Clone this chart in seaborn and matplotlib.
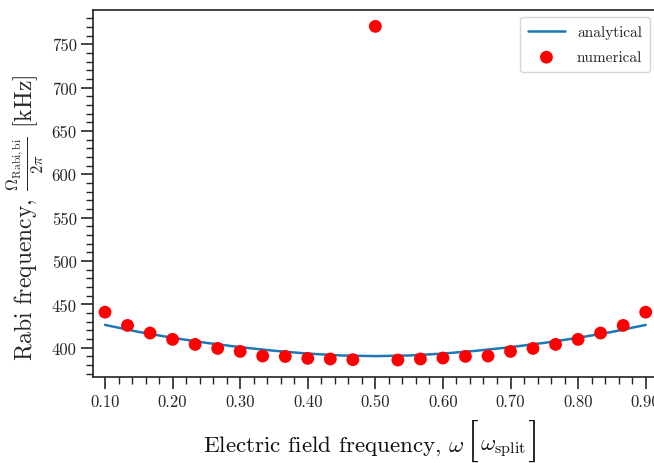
import matplotlib
matplotlib.use("Agg")
import matplotlib.pyplot as plt
import seaborn as sns
import numpy as np
import pandas as pd
from matplotlib.ticker import MultipleLocator, FormatStrFormatter
from matplotlib.offsetbox import TextArea, HPacker, AnnotationBbox

# Numerical data
num_omega = [0.100, 0.1333, 0.1667, 0.200, 0.2333, 0.2667, 0.300, 0.3333, 0.3667,
             0.400, 0.4333, 0.4667, 0.500, 0.5333, 0.5667, 0.600, 0.6333, 0.6667,
             0.700, 0.7333, 0.7667, 0.800, 0.8333, 0.8667, 0.900]
num_rabi = [441.0, 425.7, 416.9, 409.6, 403.8, 399.2, 395.7, 390.4, 389.9,
            387.7, 387.0, 386.2, 770.7, 385.8, 387.0, 388.1, 390.0, 390.4,
            395.7, 399.2, 403.8, 409.6, 416.9, 425.7, 441.0]

# Analytical curve
ana_omega = [0.10, 0.15, 0.20, 0.25, 0.30, 0.35, 0.40, 0.45, 0.50,
             0.55, 0.60, 0.65, 0.70, 0.75, 0.80, 0.85, 0.90]
ana_rabi = [426.3, 418.2, 411.4, 405.6, 400.6, 396.5, 393.2, 391.0, 390.3,
            391.0, 393.2, 396.5, 400.6, 405.6, 411.4, 418.2, 426.3]

sns.set_style("ticks")
plt.rcParams['font.family'] = ['cmr10', 'DejaVu Serif']
plt.rcParams['mathtext.fontset'] = 'cm'
plt.rcParams['axes.formatter.use_mathtext'] = True

fig = plt.figure(figsize=(6.54, 4.64), dpi=100)
ax_left = 93.2
ax_w = 566.0
ax = fig.add_axes([ax_left / 654, 0.186, ax_w / 654, 0.791])

df_ana = pd.DataFrame({"omega": ana_omega, "rabi": ana_rabi})
df_num = pd.DataFrame({"omega": num_omega, "rabi": num_rabi})

sns.lineplot(data=df_ana, x="omega", y="rabi", ax=ax, color="#1f77b4",
             linewidth=1.8, label="analytical")
sns.scatterplot(data=df_num, x="omega", y="rabi", ax=ax, color="red",
                s=85, edgecolor="none", label="numerical", zorder=3)

ax.set_xlim(0.0825, 0.92)
ax.xaxis.set_major_locator(MultipleLocator(0.1))
ax.xaxis.set_minor_locator(MultipleLocator(0.02))
ax.xaxis.set_major_formatter(FormatStrFormatter('%.2f'))
ax.yaxis.set_major_locator(MultipleLocator(50))
ax.yaxis.set_minor_locator(MultipleLocator(10))
ax.yaxis.set_major_formatter(FormatStrFormatter('%d'))

ax.tick_params(which='major', length=8.4, width=1.2, labelsize=12, direction='out')
ax.tick_params(which='minor', length=4.8, width=1.0, direction='out')
for s in ax.spines.values():
    s.set_linewidth(1.2)
    s.set_color('#222222')

# x label built from pieces so that the brackets can be tall
ax.set_xlabel("")
tp = dict(fontsize=16.6, family=['cmr10'], color='#111111')
bp = dict(fontsize=31, family=['cmr10'], color='#111111')
parts = [
    TextArea(r"Electric field frequency, $\omega\;\,$", textprops=tp),
    TextArea("[", textprops=bp),
    TextArea(r"$\omega_{\rm split}$", textprops=tp),
    TextArea("]", textprops=bp),
]
pack = HPacker(children=parts, align="baseline", pad=0, sep=1)
ab = AnnotationBbox(pack, (371.5, 23.5), xycoords='figure pixels', frameon=False,
                    box_alignment=(0.5, 0.5), pad=0, annotation_clip=False)
fig.add_artist(ab)

ax.set_ylabel(r"Rabi frequency, $\frac{\Omega_{\rm Rabi,bi}}{2\pi}$ [kHz]", fontsize=17)
ax.yaxis.set_label_coords(-0.085, 0.435)

leg = ax.legend(loc="upper right", fontsize=11, frameon=True, fancybox=True,
                framealpha=0.8, edgecolor="#cccccc", borderaxespad=0,
                handlelength=2.4, labelspacing=0.75, borderpad=0.5,
                bbox_to_anchor=((650 - ax_left) / ax_w, 0.979))
leg.get_frame().set_linewidth(1.0)

fig.savefig("out.png", dpi=100)
